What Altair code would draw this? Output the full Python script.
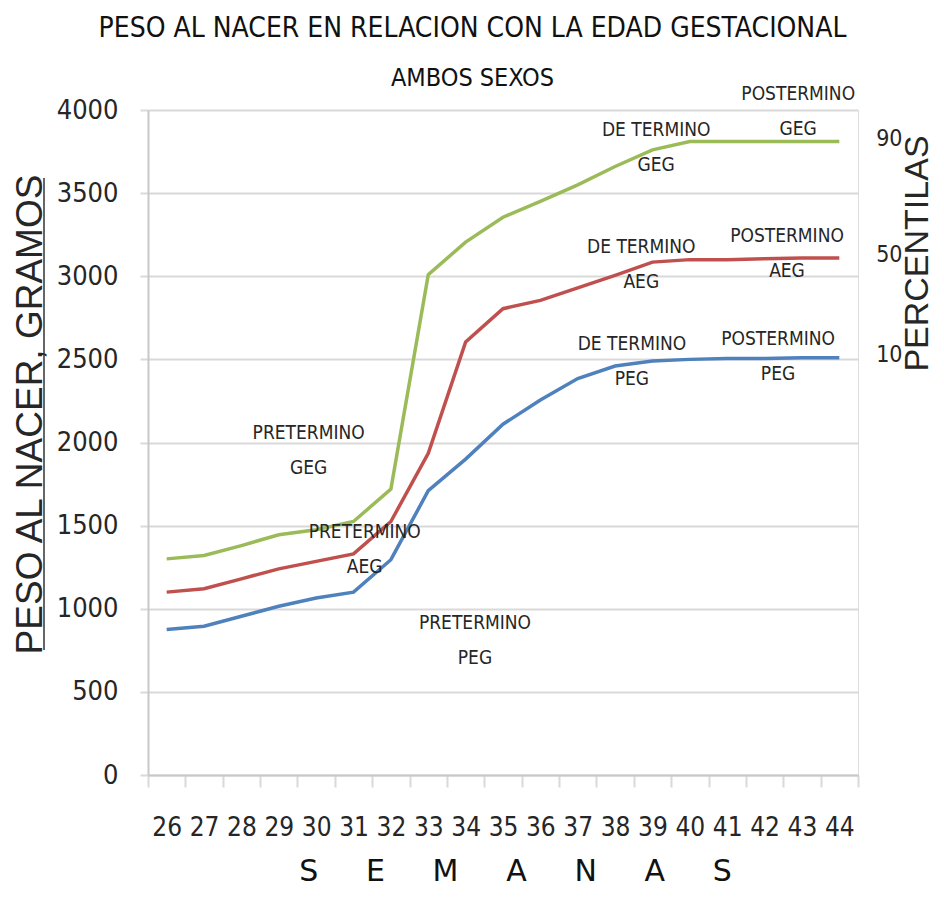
import altair as alt
import pandas as pd

# ---- data ----
weeks = list(range(26, 45))
p90 = [1300, 1320, 1380, 1445, 1475, 1525, 1720, 3010, 3205, 3355, 3450, 3550, 3660, 3760, 3810, 3810, 3810, 3810, 3810]
p50 = [1100, 1120, 1180, 1240, 1285, 1330, 1525, 1935, 2605, 2805, 2855, 2930, 3005, 3085, 3100, 3100, 3105, 3110, 3110]
p10 = [875, 895, 955, 1015, 1065, 1100, 1295, 1710, 1900, 2110, 2255, 2385, 2460, 2490, 2500, 2505, 2505, 2510, 2510]
series_names = ["90", "50", "10"]
series_colors = ["#9BBB59", "#C0504D", "#4F81BD"]

label_texts = ["POSTERMINO\nGEG", "DE TERMINO\nGEG", "DE TERMINO\nAEG", "POSTERMINO\nAEG",
               "DE TERMINO\nPEG", "POSTERMINO\nPEG", "PRETERMINO\nGEG", "PRETERMINO\nAEG",
               "PRETERMINO\nPEG"]
label_weeks = [42.9, 39.1, 38.7, 42.6, 38.45, 42.36, 29.8, 31.3, 34.25]
label_pesos = [3990, 3775, 3070, 3135, 2485, 2520, 1950, 1355, 810]

y_ticks = list(range(0, 4001, 500))

# ---- tables ----
rows = []
for name, vals in zip(series_names, [p90, p50, p10]):
    for w, v in zip(weeks, vals):
        rows.append({"semana": w, "peso": v, "pct": name})
df = pd.DataFrame(rows)
df_end = pd.DataFrame({"semana": [weeks[-1]] * 3,
                       "peso": [p90[-1], p50[-1], p10[-1]],
                       "pct": series_names})
df_lab = pd.DataFrame({"semana": label_weeks, "peso": label_pesos, "txt": label_texts})

W, H = 710, 665
NARROW = "Liberation Sans Narrow, DejaVu Sans Condensed, sans-serif"
TXT = "#262626"
GRID = "#d9d9d9"
LINE_H = 35

tick_vals = [w - 0.5 for w in weeks] + [weeks[-1] + 0.5]
half_band = W / len(weeks) / 2
nb = "\u00a0" * 5
x_title = nb.join(list("SEMANAS"))

xscale = alt.Scale(domain=[weeks[0] - 0.5, weeks[-1] + 0.5], nice=False, zero=False)
yscale = alt.Scale(domain=[0, 4000], nice=False)

x_axis = alt.Axis(
    values=tick_vals, tickCount=len(tick_vals) * 2,
    labelExpr=f"datum.value < {weeks[-1]} ? format(datum.value + 0.5, 'd') : ''",
    labelOffset=half_band, labelFlush=False, labelOverlap=False,
    labelFont=NARROW, labelFontSize=26, labelColor=TXT, labelPadding=27,
    ticks=True, tickSize=12, tickColor=GRID, tickWidth=2,
    domainColor="#c8c8c8", domainWidth=2, grid=False,
    title=x_title, titleFont="DejaVu Sans", titleFontSize=30, titleFontWeight="normal",
    titleColor="#111", titleBaseline="alphabetic", titleX=367, titleY=105,
)
y_axis = alt.Axis(
    values=y_ticks, format="d", labelFont=NARROW, labelFontSize=27, labelColor=TXT,
    labelPadding=22,
    ticks=True, tickSize=8, tickColor=GRID, tickWidth=2,
    grid=True, gridColor=GRID, gridWidth=2,
    domainColor="#c8c8c8", domainWidth=2,
    title="PESO AL NACER, GRAMOS", titleFont="Liberation Sans", titleFontSize=37,
    titleFontWeight="normal", titleColor=TXT, titleBaseline="alphabetic",
    titleX=-107, titleY=304,
)
y_axis_right = alt.Axis(
    orient="right", labels=False, ticks=False, domain=False, grid=False,
    title="PERCENTILAS", titleFont="Liberation Sans", titleFontSize=34,
    titleFontWeight="normal", titleColor=TXT, titleAngle=270, titleBaseline="alphabetic",
    titleX=69, titleY=143,
)

color = alt.Color("pct:N", scale=alt.Scale(domain=series_names, range=series_colors), legend=None)

lines = alt.Chart(df).mark_line(strokeWidth=3.5).encode(
    x=alt.X("semana:Q", scale=xscale, axis=x_axis),
    y=alt.Y("peso:Q", scale=yscale, axis=y_axis),
    color=color,
)

labels = alt.Chart(df_lab).mark_text(
    lineBreak="\n", font=NARROW, fontSize=19, color=TXT, lineHeight=LINE_H,
    align="center", baseline="middle", dy=-LINE_H / 2,
).encode(
    x=alt.X("semana:Q", scale=xscale),
    y=alt.Y("peso:Q", scale=yscale, axis=None),
    text="txt:N",
)

pct = alt.Chart(df_end).mark_text(
    font=NARROW, fontSize=23, color=TXT, align="center", baseline="middle", dx=50, dy=-3,
).encode(
    x=alt.X("semana:Q", scale=xscale),
    y=alt.Y("peso:Q", scale=yscale, axis=y_axis_right),
    text="pct:N",
)

underline = alt.Chart(df_end.head(1)).mark_rule(color="#333", strokeWidth=1.5).encode(
    x=alt.value(-104), y=alt.value(68), y2=alt.value(540),
)

chart = alt.layer(lines, labels, pct, underline).resolve_axis(y="independent").properties(
    width=W, height=H,
    padding={"left": 3, "top": 7, "right": 0, "bottom": 0},
    title=alt.TitleParams(
        text="PESO AL NACER EN RELACION CON LA EDAD GESTACIONAL",
        subtitle="AMBOS SEXOS",
        font=NARROW, fontSize=28, fontWeight="normal", color="#111",
        subtitleFont=NARROW, subtitleFontSize=25, subtitleColor="#111", subtitlePadding=23,
        anchor="middle", frame="bounds", offset=-6,
    ),
).configure_view(stroke=None).configure(background="white")

chart.save("out.html", embed_options={"renderer": "svg", "actions": False})
